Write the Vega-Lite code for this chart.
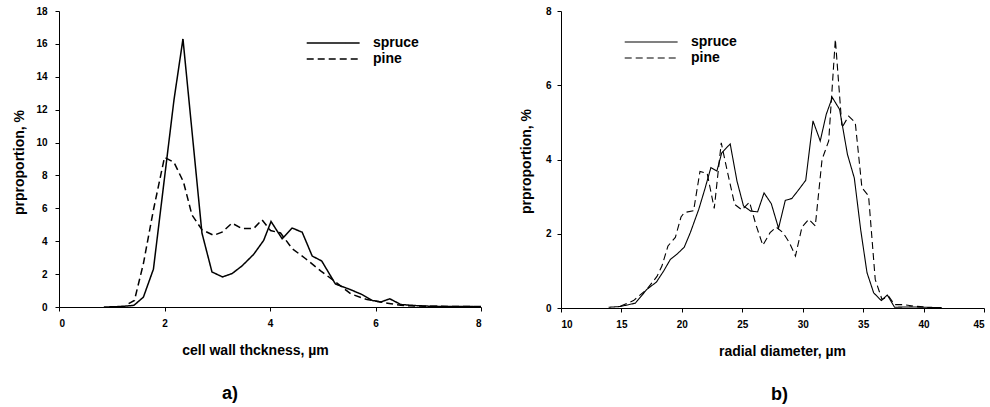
{
  "$schema": "https://vega.github.io/schema/vega-lite/v6.json",
  "padding": {"left": 12, "top": 6, "right": 5, "bottom": 5},
  "bounds": "flush",
  "spacing": 80,
  "config": {
    "view": {"stroke": null},
    "font": "Liberation Sans",
    "axis": {
      "grid": false,
      "domainColor": "black",
      "domainWidth": 1,
      "tickColor": "black",
      "tickWidth": 1,
      "tickSize": 4,
      "labelFont": "Liberation Sans",
      "labelFontWeight": "bold",
      "labelFontSize": 10,
      "labelColor": "black",
      "titleFont": "Liberation Sans",
      "titleFontWeight": "bold",
      "titleFontSize": 14,
      "titleColor": "black"
    },
    "legend": {
      "orient": "none",
      "padding": 0,
      "symbolType": "M-1,0H9",
      "symbolSize": 112,
      "symbolStrokeColor": "black",
      "symbolFillColor": "transparent",
      "labelFont": "Liberation Sans",
      "labelFontWeight": "bold",
      "labelFontSize": 14,
      "labelColor": "black",
      "labelOffset": 54,
      "rowPadding": 2,
      "title": null
    }
  },
  "datasets": {
    "thick": [
      {"t": 0.85, "p": 0.0, "s": "spruce"},
      {"t": 1.1, "p": 0.02, "s": "spruce"},
      {"t": 1.29, "p": 0.06, "s": "spruce"},
      {"t": 1.42, "p": 0.1, "s": "spruce"},
      {"t": 1.6, "p": 0.6, "s": "spruce"},
      {"t": 1.79, "p": 2.3, "s": "spruce"},
      {"t": 2.18, "p": 12.6, "s": "spruce"},
      {"t": 2.35, "p": 16.3, "s": "spruce"},
      {"t": 2.71, "p": 4.5, "s": "spruce"},
      {"t": 2.9, "p": 2.13, "s": "spruce"},
      {"t": 3.1, "p": 1.83, "s": "spruce"},
      {"t": 3.28, "p": 2.03, "s": "spruce"},
      {"t": 3.47, "p": 2.5, "s": "spruce"},
      {"t": 3.69, "p": 3.2, "s": "spruce"},
      {"t": 3.88, "p": 4.05, "s": "spruce"},
      {"t": 4.02, "p": 5.2, "s": "spruce"},
      {"t": 4.23, "p": 4.15, "s": "spruce"},
      {"t": 4.42, "p": 4.8, "s": "spruce"},
      {"t": 4.61, "p": 4.55, "s": "spruce"},
      {"t": 4.8, "p": 3.1, "s": "spruce"},
      {"t": 4.98, "p": 2.8, "s": "spruce"},
      {"t": 5.24, "p": 1.4, "s": "spruce"},
      {"t": 5.53, "p": 1.05, "s": "spruce"},
      {"t": 5.75, "p": 0.75, "s": "spruce"},
      {"t": 5.94, "p": 0.4, "s": "spruce"},
      {"t": 6.1, "p": 0.3, "s": "spruce"},
      {"t": 6.27, "p": 0.5, "s": "spruce"},
      {"t": 6.48, "p": 0.15, "s": "spruce"},
      {"t": 6.79, "p": 0.08, "s": "spruce"},
      {"t": 7.1, "p": 0.04, "s": "spruce"},
      {"t": 7.5, "p": 0.03, "s": "spruce"},
      {"t": 8.0, "p": 0.02, "s": "spruce"},
      {"t": 1.32, "p": 0.2, "s": "pine"},
      {"t": 1.43, "p": 0.4, "s": "pine"},
      {"t": 1.6, "p": 2.64, "s": "pine"},
      {"t": 1.79, "p": 5.9, "s": "pine"},
      {"t": 2.0, "p": 9.1, "s": "pine"},
      {"t": 2.18, "p": 8.8, "s": "pine"},
      {"t": 2.36, "p": 7.6, "s": "pine"},
      {"t": 2.52, "p": 5.6, "s": "pine"},
      {"t": 2.71, "p": 4.7, "s": "pine"},
      {"t": 2.93, "p": 4.36, "s": "pine"},
      {"t": 3.09, "p": 4.55, "s": "pine"},
      {"t": 3.28, "p": 5.1, "s": "pine"},
      {"t": 3.47, "p": 4.77, "s": "pine"},
      {"t": 3.69, "p": 4.77, "s": "pine"},
      {"t": 3.85, "p": 5.3, "s": "pine"},
      {"t": 4.01, "p": 4.65, "s": "pine"},
      {"t": 4.2, "p": 4.5, "s": "pine"},
      {"t": 4.42, "p": 3.55, "s": "pine"},
      {"t": 4.67, "p": 2.95, "s": "pine"},
      {"t": 4.96, "p": 2.2, "s": "pine"},
      {"t": 5.21, "p": 1.6, "s": "pine"},
      {"t": 5.53, "p": 0.8, "s": "pine"},
      {"t": 5.84, "p": 0.45, "s": "pine"},
      {"t": 6.1, "p": 0.3, "s": "pine"},
      {"t": 6.29, "p": 0.2, "s": "pine"},
      {"t": 6.48, "p": 0.1, "s": "pine"},
      {"t": 6.79, "p": 0.06, "s": "pine"},
      {"t": 7.2, "p": 0.04, "s": "pine"},
      {"t": 8.0, "p": 0.03, "s": "pine"}
    ],
    "diam": [
      {"d": 13.94, "p": 0.02, "s": "spruce"},
      {"d": 14.9, "p": 0.04, "s": "spruce"},
      {"d": 16.15, "p": 0.13, "s": "spruce"},
      {"d": 17.1, "p": 0.5, "s": "spruce"},
      {"d": 17.9, "p": 0.7, "s": "spruce"},
      {"d": 18.5, "p": 1.0, "s": "spruce"},
      {"d": 19.05, "p": 1.31, "s": "spruce"},
      {"d": 19.6, "p": 1.45, "s": "spruce"},
      {"d": 20.2, "p": 1.64, "s": "spruce"},
      {"d": 20.7, "p": 2.03, "s": "spruce"},
      {"d": 21.4, "p": 2.66, "s": "spruce"},
      {"d": 21.9, "p": 3.2, "s": "spruce"},
      {"d": 22.4, "p": 3.78, "s": "spruce"},
      {"d": 22.9, "p": 3.69, "s": "spruce"},
      {"d": 23.3, "p": 4.18, "s": "spruce"},
      {"d": 24.0, "p": 4.42, "s": "spruce"},
      {"d": 24.56, "p": 3.42, "s": "spruce"},
      {"d": 25.1, "p": 2.75, "s": "spruce"},
      {"d": 25.7, "p": 2.61, "s": "spruce"},
      {"d": 26.27, "p": 2.59, "s": "spruce"},
      {"d": 26.8, "p": 3.1, "s": "spruce"},
      {"d": 27.4, "p": 2.81, "s": "spruce"},
      {"d": 28.0, "p": 2.15, "s": "spruce"},
      {"d": 28.56, "p": 2.9, "s": "spruce"},
      {"d": 29.1, "p": 2.95, "s": "spruce"},
      {"d": 29.7, "p": 3.2, "s": "spruce"},
      {"d": 30.25, "p": 3.44, "s": "spruce"},
      {"d": 30.85, "p": 5.04, "s": "spruce"},
      {"d": 31.45, "p": 4.5, "s": "spruce"},
      {"d": 31.95, "p": 5.22, "s": "spruce"},
      {"d": 32.45, "p": 5.67, "s": "spruce"},
      {"d": 33.05, "p": 5.35, "s": "spruce"},
      {"d": 33.7, "p": 4.14, "s": "spruce"},
      {"d": 34.27, "p": 3.5, "s": "spruce"},
      {"d": 34.8, "p": 2.1, "s": "spruce"},
      {"d": 35.32, "p": 0.95, "s": "spruce"},
      {"d": 35.87, "p": 0.41, "s": "spruce"},
      {"d": 36.5, "p": 0.2, "s": "spruce"},
      {"d": 37.0, "p": 0.35, "s": "spruce"},
      {"d": 37.6, "p": 0.02, "s": "spruce"},
      {"d": 38.9, "p": 0.03, "s": "spruce"},
      {"d": 40.0, "p": 0.02, "s": "spruce"},
      {"d": 41.5, "p": 0.01, "s": "spruce"},
      {"d": 14.9, "p": 0.05, "s": "pine"},
      {"d": 16.0, "p": 0.2, "s": "pine"},
      {"d": 17.1, "p": 0.5, "s": "pine"},
      {"d": 17.94, "p": 0.85, "s": "pine"},
      {"d": 18.35, "p": 1.13, "s": "pine"},
      {"d": 18.85, "p": 1.67, "s": "pine"},
      {"d": 19.46, "p": 1.9, "s": "pine"},
      {"d": 19.93, "p": 2.45, "s": "pine"},
      {"d": 20.2, "p": 2.57, "s": "pine"},
      {"d": 20.97, "p": 2.62, "s": "pine"},
      {"d": 21.5, "p": 3.68, "s": "pine"},
      {"d": 22.1, "p": 3.62, "s": "pine"},
      {"d": 22.68, "p": 2.68, "s": "pine"},
      {"d": 23.26, "p": 4.45, "s": "pine"},
      {"d": 23.73, "p": 3.73, "s": "pine"},
      {"d": 24.37, "p": 2.79, "s": "pine"},
      {"d": 24.97, "p": 2.64, "s": "pine"},
      {"d": 25.6, "p": 2.85, "s": "pine"},
      {"d": 26.16, "p": 2.21, "s": "pine"},
      {"d": 26.7, "p": 1.69, "s": "pine"},
      {"d": 27.3, "p": 2.03, "s": "pine"},
      {"d": 27.8, "p": 2.18, "s": "pine"},
      {"d": 28.37, "p": 2.03, "s": "pine"},
      {"d": 28.9, "p": 1.76, "s": "pine"},
      {"d": 29.4, "p": 1.4, "s": "pine"},
      {"d": 29.94, "p": 2.18, "s": "pine"},
      {"d": 30.5, "p": 2.39, "s": "pine"},
      {"d": 31.04, "p": 2.21, "s": "pine"},
      {"d": 31.6, "p": 4.0, "s": "pine"},
      {"d": 32.15, "p": 4.5, "s": "pine"},
      {"d": 32.7, "p": 7.24, "s": "pine"},
      {"d": 33.25, "p": 4.86, "s": "pine"},
      {"d": 33.8, "p": 5.17, "s": "pine"},
      {"d": 34.35, "p": 4.99, "s": "pine"},
      {"d": 34.9, "p": 3.24, "s": "pine"},
      {"d": 35.45, "p": 3.02, "s": "pine"},
      {"d": 36.0, "p": 0.77, "s": "pine"},
      {"d": 36.56, "p": 0.23, "s": "pine"},
      {"d": 37.1, "p": 0.32, "s": "pine"},
      {"d": 37.6, "p": 0.09, "s": "pine"},
      {"d": 38.35, "p": 0.09, "s": "pine"},
      {"d": 39.2, "p": 0.05, "s": "pine"},
      {"d": 40.0, "p": 0.03, "s": "pine"}
    ]
  },
  "resolve": {"scale": {"strokeDash": "independent"}, "legend": {"strokeDash": "independent"}},
  "hconcat": [
    {
      "width": 422,
      "height": 296,
      "data": {"name": "thick"},
      "title": {"text": "a)", "orient": "bottom", "anchor": "middle", "fontSize": 18, "font": "Liberation Sans", "fontWeight": "bold", "color": "black", "offset": 28, "dx": -40},
      "mark": {"type": "line", "color": "black", "strokeWidth": 1.5},
      "encoding": {
        "x": {"field": "t", "type": "quantitative", "scale": {"domain": [0, 8], "nice": false},
              "axis": {"values": [0, 2, 4, 6, 8], "labelPadding": 7, "title": "cell wall thckness, µm", "titleX": 196, "titleY": 47, "titleBaseline": "alphabetic", "titleAlign": "center"}},
        "y": {"field": "p", "type": "quantitative", "scale": {"domain": [0, 18], "nice": false},
              "axis": {"values": [0, 2, 4, 6, 8, 10, 12, 14, 16, 18], "labelPadding": 8, "title": "prproportion, %", "titleX": -40, "titleY": 151, "titleBaseline": "middle", "titleAlign": "center"}},
        "strokeDash": {"field": "s", "type": "nominal", "scale": {"domain": ["spruce", "pine"], "range": [[1, 0], [7, 4]]},
                       "legend": {"legendX": 246, "legendY": 25, "symbolStrokeWidth": 1.4}}
      }
    },
    {
      "width": 423,
      "height": 297,
      "data": {"name": "diam"},
      "title": {"text": "b)", "orient": "bottom", "anchor": "middle", "fontSize": 18, "font": "Liberation Sans", "fontWeight": "bold", "color": "black", "offset": 28, "dx": 7},
      "mark": {"type": "line", "color": "black", "strokeWidth": 1.1},
      "encoding": {
        "x": {"field": "d", "type": "quantitative", "scale": {"domain": [10, 45], "nice": false},
              "axis": {"values": [10, 15, 20, 25, 30, 35, 40, 45], "labelPadding": 7, "title": "radial diameter, µm", "titleX": 221, "titleY": 47, "titleBaseline": "alphabetic", "titleAlign": "center"}},
        "y": {"field": "p", "type": "quantitative", "scale": {"domain": [0, 8], "nice": false},
              "axis": {"values": [0, 2, 4, 6, 8], "labelPadding": 6, "title": "prproportion, %", "titleX": -35, "titleY": 150, "titleBaseline": "middle", "titleAlign": "center"}},
        "strokeDash": {"field": "s", "type": "nominal", "scale": {"domain": ["spruce", "pine"], "range": [[1, 0], [7, 4]]},
                       "legend": {"legendX": 62, "legendY": 24, "symbolStrokeWidth": 1.1}}
      }
    }
  ]
}
